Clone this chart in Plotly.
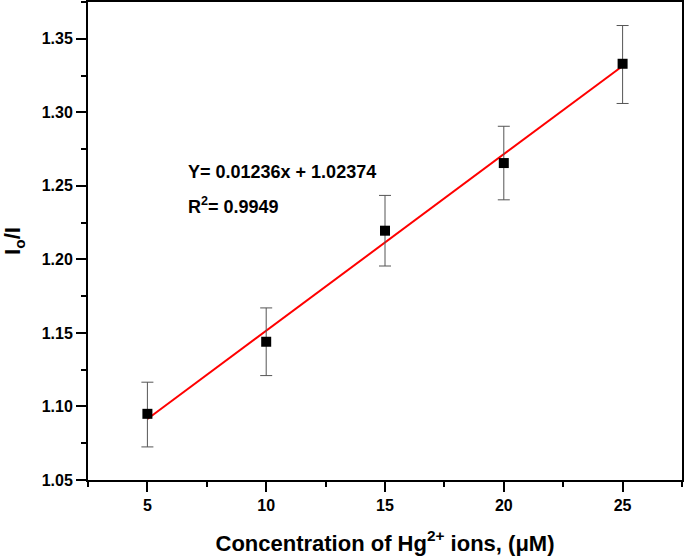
"""Stern-Volmer type plot: Io/I vs Hg2+ concentration."""
import plotly.graph_objects as go

conc = [5, 10, 15, 20, 25]
ratio = [1.095, 1.144, 1.2195, 1.2655, 1.333]
err_up = [0.0215, 0.023, 0.024, 0.025, 0.026]
err_down = [0.0225, 0.023, 0.024, 0.025, 0.027]

fit_x = [5, 25]
fit_y = [1.0915, 1.3315]

FONT = "Arial, Liberation Sans, sans-serif"

fig = go.Figure()
fig.add_trace(go.Scatter(
    x=fit_x, y=fit_y, mode="lines",
    line=dict(color="#ff0000", width=2), showlegend=False,
))
fig.add_trace(go.Scatter(
    x=conc, y=ratio, mode="markers",
    marker=dict(symbol="square", size=10, color="black"),
    error_y=dict(type="data", array=err_up, arrayminus=err_down,
                 color="#555555", thickness=1, width=6),
    showlegend=False,
))

fig.add_annotation(x=0.165, y=0.644, xref="paper", yref="paper",
                   xanchor="left", yanchor="middle", showarrow=False,
                   text="Y= 0.01236x + 1.02374",
                   font=dict(family=FONT, size=18, color="black", weight="bold"))
fig.add_annotation(x=0.165, y=0.575, xref="paper", yref="paper",
                   xanchor="left", yanchor="middle", showarrow=False,
                   text="R<sup>2</sup>= 0.9949",
                   font=dict(family=FONT, size=18, color="black", weight="bold"))

axis_common = dict(
    showline=True, linewidth=2, linecolor="black", mirror=True,
    ticks="outside", ticklen=10, tickwidth=2, tickcolor="black",
    showgrid=False, zeroline=False, automargin=False,
    tickfont=dict(family=FONT, size=16, color="black", weight="bold"),
)

fig.update_xaxes(
    range=[2.5, 27.5], tick0=5, dtick=5,
    minor=dict(ticks="outside", ticklen=5, tickwidth=2, tickcolor="black", dtick=2.5, tick0=2.5),
    title=dict(text="Concentration of Hg<sup>2+</sup> ions, (μM)",
               font=dict(family=FONT, size=22, color="black", weight="bold"), standoff=22),
    **axis_common,
)
fig.update_yaxes(
    range=[1.05, 1.375], tick0=1.05, dtick=0.05, tickformat=".2f",
    minor=dict(ticks="outside", ticklen=5, tickwidth=2, tickcolor="black", dtick=0.025, tick0=1.05),
    title=dict(text="I<sub>o</sub>/I",
               font=dict(family=FONT, size=22, color="black", weight="bold"), standoff=16),
    **axis_common,
)

fig.update_layout(
    width=685, height=558,
    margin=dict(l=88, r=3, t=2, b=78),
    plot_bgcolor="white", paper_bgcolor="white",
)

fig.write_html("out.html", config={"displayModeBar": False},
               post_script="document.body.style.margin='0';")
